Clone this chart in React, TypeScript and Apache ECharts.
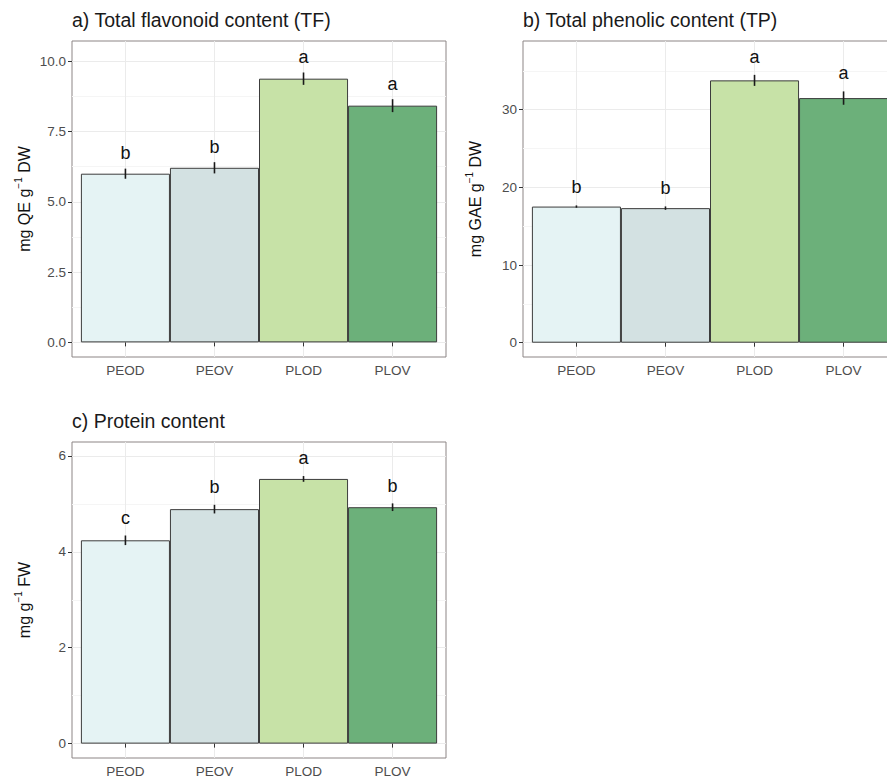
import React, { useEffect, useRef } from 'react';
import * as echarts from 'echarts';

const categories = ['PEOD', 'PEOV', 'PLOD', 'PLOV'];
const fills = ['#e5f3f4', '#d3e1e2', '#c7e2a7', '#6cb07a'];

// a) Total flavonoid content
const tfMean = [6.0, 6.21, 9.38, 8.42];
const tfSe = [0.18, 0.2, 0.22, 0.23];
const tfLetters = ['b', 'b', 'a', 'a'];
const tfTicks = [0, 2.5, 5, 7.5, 10];

// b) Total phenolic content
const tpMean = [17.53, 17.33, 33.78, 31.5];
const tpSe = [0.15, 0.22, 0.71, 0.86];
const tpLetters = ['b', 'b', 'a', 'a'];
const tpTicks = [0, 10, 20, 30];

// c) Protein content
const prMean = [4.24, 4.89, 5.52, 4.93];
const prSe = [0.1, 0.09, 0.06, 0.08];
const prLetters = ['c', 'b', 'a', 'b'];
const prTicks = [0, 2, 4, 6];

const FONT = "'Liberation Sans', Arial, Helvetica, sans-serif";

const catPositions = categories.map((_, i) => i + 1);

const panels = [
  {
    title: 'a) Total flavonoid content (TF)',
    yName: 'mg QE g{sup|−1} DW',
    mean: tfMean, se: tfSe, letters: tfLetters, ticks: tfTicks,
    min: -0.52, max: 10.72, interval: 2.5, decimals: 1,
    grid: { left: 72, top: 41, width: 374, height: 316 },
    letterOffset: 15.5,
  },
  {
    title: 'b) Total phenolic content (TP)',
    yName: 'mg GAE g{sup|−1} DW',
    mean: tpMean, se: tpSe, letters: tpLetters, ticks: tpTicks,
    min: -1.84, max: 38.85, interval: 10, decimals: 0,
    grid: { left: 523, top: 41, width: 374, height: 316 },
    letterOffset: 18.2,
  },
  {
    title: 'c) Protein content',
    yName: 'mg g{sup|−1} FW',
    mean: prMean, se: prSe, letters: prLetters, ticks: prTicks,
    min: -0.3, max: 6.29, interval: 2, decimals: 0,
    grid: { left: 72, top: 442, width: 374, height: 316 },
    letterOffset: 17.8,
  },
];

export default function App() {
  const ref = useRef<HTMLDivElement>(null);
  useEffect(() => {
    if (!ref.current) return;
    const chart = echarts.init(ref.current, undefined, { renderer: 'svg' });

    const title = panels.map((p) => ({
      text: p.title,
      left: p.grid.left,
      top: p.grid.top - 31,
      padding: 0,
      textStyle: { fontSize: 19.5, fontWeight: 'normal', color: '#1a1a1a', fontFamily: FONT },
    }));

    const grid = panels.map((p) => ({
      ...p.grid,
      show: true,
      borderColor: '#8c8585',
      borderWidth: 1,
      backgroundColor: '#ffffff',
      containLabel: false,
      outerBoundsMode: 'none',
    }));

    const xAxis = panels.map((p, i) => ({
      type: 'value',
      gridIndex: i,
      min: 0.4,
      max: 4.6,
      minInterval: 1,
      maxInterval: 1,
      axisLine: { show: false },
      axisTick: { show: true, length: 4, lineStyle: { color: '#333333', width: 1 }, customValues: catPositions },
      axisLabel: {
        customValues: catPositions,
        formatter: (v: number) => categories[Math.round(v) - 1] ?? '',
        color: '#4d4d4d',
        fontSize: 13.5,
        fontFamily: FONT,
        margin: 6,
      },
      splitLine: { show: true, lineStyle: { color: '#ebebeb', width: 1 } },
    }));

    const yAxis = panels.map((p, i) => ({
      type: 'value',
      gridIndex: i,
      min: p.min,
      max: p.max,
      minInterval: p.interval,
      maxInterval: p.interval,
      axisLine: { show: false },
      axisTick: { show: true, length: 4, lineStyle: { color: '#333333', width: 1 }, customValues: p.ticks },
      axisLabel: {
        customValues: p.ticks,
        formatter: (v: number) => v.toFixed(p.decimals),
        color: '#4d4d4d',
        fontSize: 13.5,
        fontFamily: FONT,
        margin: 6,
      },
      splitLine: { show: true, lineStyle: { color: '#ebebeb', width: 1 } },
      minorTick: { show: false, splitNumber: 2 },
      minorSplitLine: { show: true, lineStyle: { color: '#f5f5f5', width: 1 } },
      name: p.yName,
      nameLocation: 'middle',
      nameGap: 37,
      nameTextStyle: {
        fontSize: 16,
        color: '#111111',
        fontFamily: FONT,
        lineHeight: 22,
        rich: { sup: { fontSize: 10, fontFamily: FONT, color: '#111111', verticalAlign: 'top', lineHeight: 10 } },
      },
    }));

    const series: any[] = [];
    panels.forEach((p, i) => {
      series.push({
        type: 'bar',
        xAxisIndex: i,
        yAxisIndex: i,
        barWidth: '100%',
        z: 2,
        data: p.mean.map((v, k) => ({
          value: [catPositions[k], v],
          itemStyle: { color: fills[k], borderColor: '#3c3c3c', borderWidth: 1 },
        })),
      });
      series.push({
        type: 'custom',
        xAxisIndex: i,
        yAxisIndex: i,
        z: 4,
        data: p.mean.map((v, k) => [catPositions[k], v - p.se[k], v + p.se[k]]),
        renderItem: (_params: any, api: any) => {
          const x = api.value(0);
          const a = api.coord([x, api.value(1)]);
          const b = api.coord([x, api.value(2)]);
          return {
            type: 'line',
            shape: { x1: a[0], y1: a[1], x2: b[0], y2: b[1] },
            style: { stroke: '#1a1a1a', lineWidth: 1.6 },
          };
        },
      });
      series.push({
        type: 'custom',
        xAxisIndex: i,
        yAxisIndex: i,
        z: 5,
        data: p.mean.map((v, k) => [catPositions[k], v + p.se[k]]),
        renderItem: (params: any, api: any) => {
          const c = api.coord([api.value(0), api.value(1)]);
          return {
            type: 'text',
            x: c[0],
            y: c[1] - p.letterOffset,
            style: {
              text: p.letters[params.dataIndex],
              fontSize: 18,
              fontFamily: FONT,
              fill: '#111111',
              align: 'center',
              verticalAlign: 'middle',
            },
          };
        },
      });
    });

    chart.setOption({
      animation: false,
      backgroundColor: '#ffffff',
      title,
      grid,
      xAxis,
      yAxis,
      series,
    });
    return () => chart.dispose();
  }, []);

  return (
    <div
      ref={ref}
      style={{ position: 'absolute', left: 0, top: 0, width: 887, height: 780 }}
    />
  );
}
